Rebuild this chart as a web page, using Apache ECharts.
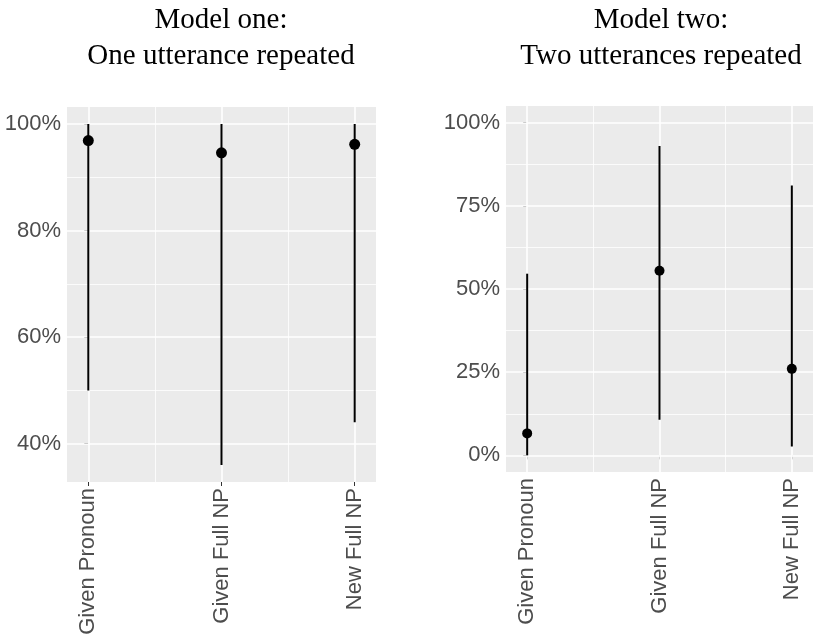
<!DOCTYPE html>
<html>
<head>
<meta charset="utf-8">
<script src="https://cdn.jsdelivr.net/npm/echarts@6/dist/echarts.min.js"></script>
<style>
  html, body { margin: 0; padding: 0; background: #fff; }
  #main { width: 813px; height: 638px; }
</style>
</head>
<body>
<div id="main"></div>
<script>
// 数据
var categories = ['Given Pronoun', 'Given Full NP', 'New Full NP'];

// Model one: One utterance repeated (%)
var m1Mean = [96.9, 94.6, 96.2];
var m1Lower = [50, 36, 44];
var m1Upper = [100, 100, 100];

// Model two: Two utterances repeated (%)
var m2Mean = [6.6, 55.5, 26.0];
var m2Lower = [0, 10.7, 2.7];
var m2Upper = [54.6, 93.0, 81.1];

// 刻度
var m1Ticks = [40, 60, 80, 100];
var m1Minor = [50, 70, 90];
var m2Ticks = [0, 25, 50, 75, 100];
var m2Minor = [12.5, 37.5, 62.5, 87.5];
var xTicks = [0, 1, 2];
var xMinor = [0.5, 1.5];

var myChart = echarts.init(document.getElementById('main'));

var labelColor = '#4d4d4d';
var labelFont = 'Liberation Sans';

function xAxisOpt(gridIndex) {
    return {
        type: 'value',
        gridIndex: gridIndex,
        min: -0.16,
        max: 2.16,
        axisLine: { show: false },
        splitLine: { show: false },
        axisTick: { show: true, length: 4, customValues: xTicks, lineStyle: { color: '#333', width: 1 } },
        axisLabel: {
            customValues: xTicks,
            rotate: 90,
            margin: 6,
            color: labelColor,
            fontFamily: labelFont,
            fontSize: 22,
            formatter: function (v) { return categories[Math.round(v)]; }
        }
    };
}

function yAxisOpt(gridIndex, min, max, ticks) {
    return {
        type: 'value',
        gridIndex: gridIndex,
        min: min,
        max: max,
        axisLine: { show: false },
        splitLine: { show: false },
        axisTick: { show: true, length: 4, customValues: ticks, lineStyle: { color: '#333', width: 1 } },
        axisLabel: {
            customValues: ticks,
            margin: 6,
            color: labelColor,
            fontFamily: labelFont,
            fontSize: 22,
            formatter: '{value}%'
        }
    };
}

// 网格线(白色)
function gridLines(idx, yMajor, yMinor) {
    var data = [];
    yMinor.forEach(function (v) { data.push({ yAxis: v, lineStyle: { width: 0.8 } }); });
    xMinor.forEach(function (v) { data.push({ xAxis: v, lineStyle: { width: 0.8 } }); });
    yMajor.forEach(function (v) { data.push({ yAxis: v, lineStyle: { width: 1.6 } }); });
    xTicks.forEach(function (v) { data.push({ xAxis: v, lineStyle: { width: 1.6 } }); });
    return {
        type: 'line',
        xAxisIndex: idx,
        yAxisIndex: idx,
        data: [],
        z: 1,
        silent: true,
        markLine: {
            z: 1,
            silent: true,
            symbol: 'none',
            label: { show: false },
            emphasis: { disabled: true },
            lineStyle: { type: 'solid', color: '#ffffff', opacity: 1 },
            data: data
        }
    };
}

function errorBars(idx, lower, upper) {
    return {
        type: 'custom',
        xAxisIndex: idx,
        yAxisIndex: idx,
        z: 10,
        data: lower.map(function (lo, i) { return [i, lo, upper[i]]; }),
        renderItem: function (params, api) {
            var p1 = api.coord([api.value(0), api.value(1)]);
            var p2 = api.coord([api.value(0), api.value(2)]);
            return {
                type: 'line',
                shape: { x1: p1[0], y1: p1[1], x2: p2[0], y2: p2[1] },
                style: { stroke: '#000', lineWidth: 2 }
            };
        }
    };
}

function points(idx, mean, size) {
    return {
        type: 'scatter',
        xAxisIndex: idx,
        yAxisIndex: idx,
        z: 11,
        symbolSize: size,
        itemStyle: { color: '#000', opacity: 1 },
        data: mean.map(function (m, i) { return [i, m]; })
    };
}

var titleStyle = {
    fontFamily: 'Liberation Serif',
    fontSize: 29,
    fontWeight: 'normal',
    color: '#000',
    lineHeight: 36
};

var option = {
    animation: false,
    backgroundColor: '#fff',
    title: [
        { text: 'Model one:\nOne utterance repeated', left: 221, top: 2, padding: 0, textAlign: 'center', textStyle: titleStyle },
        { text: 'Model two:\nTwo utterances repeated', left: 661, top: 2, padding: 0, textAlign: 'center', textStyle: titleStyle }
    ],
    grid: [
        { left: 67, right: 437, top: 107, bottom: 156, show: true, backgroundColor: '#EBEBEB', borderWidth: 0 },
        { left: 506, right: -5, top: 106, bottom: 166, show: true, backgroundColor: '#EBEBEB', borderWidth: 0 }
    ],
    xAxis: [xAxisOpt(0), xAxisOpt(1)],
    yAxis: [
        yAxisOpt(0, 32.8, 103.2, m1Ticks),
        yAxisOpt(1, -5, 105, m2Ticks)
    ],
    series: [
        gridLines(0, m1Ticks, m1Minor),
        gridLines(1, m2Ticks, m2Minor),
        errorBars(0, m1Lower, m1Upper),
        errorBars(1, m2Lower, m2Upper),
        points(0, m1Mean, 11),
        points(1, m2Mean, 10)
    ]
};

myChart.setOption(option);
</script>
</body>
</html>
